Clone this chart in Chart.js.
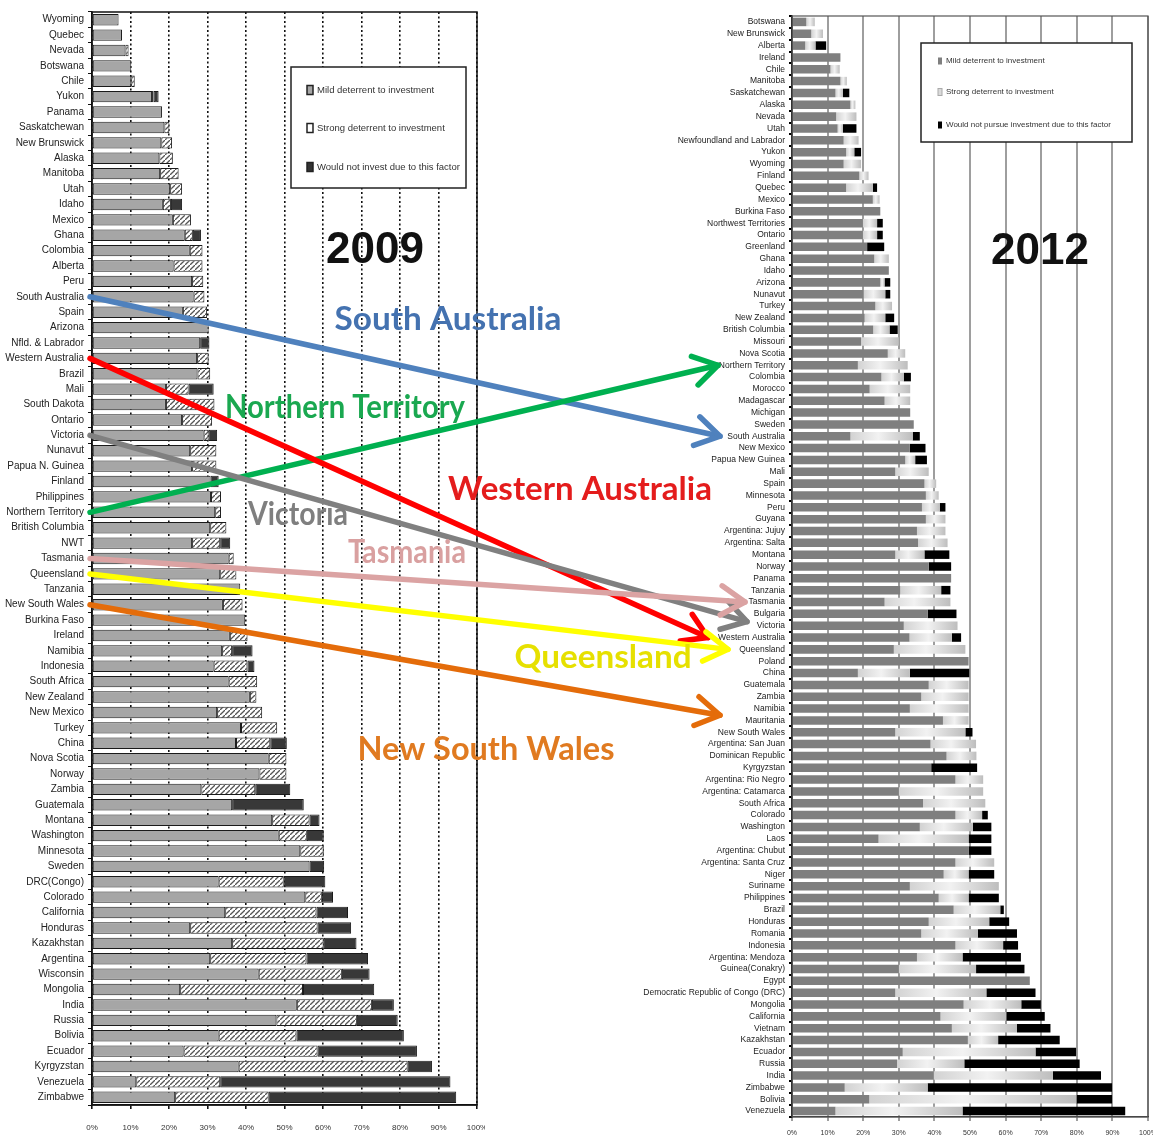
<!DOCTYPE html>
<html><head><meta charset="utf-8">
<script src="https://cdn.jsdelivr.net/npm/chart.js@4.4.1/dist/chart.umd.min.js"></script>
<style>
html,body{margin:0;padding:0;background:#fff;width:1153px;height:1137px;overflow:hidden;}
#wrap{position:relative;width:1153px;height:1137px;}
.abs{position:absolute;}
</style></head><body>
<div id="wrap">
<canvas id="c2009" class="abs" width="485" height="1137" style="left:0;top:0;width:485px;height:1137px"></canvas>
<canvas id="c2012" class="abs" width="523" height="1137" style="left:630px;top:0;width:523px;height:1137px"></canvas>
<canvas id="overlay" class="abs" width="1153" height="1137" style="left:0;top:0;width:1153px;height:1137px;pointer-events:none"></canvas>
</div>
<script>
// ---------- 2009 data ----------
const cats2009 = ["Wyoming","Quebec","Nevada","Botswana","Chile","Yukon","Panama","Saskatchewan","New Brunswick","Alaska",
"Manitoba","Utah","Idaho","Mexico","Ghana","Colombia","Alberta","Peru","South Australia","Spain",
"Arizona","Nfld. & Labrador","Western Australia","Brazil","Mali","South Dakota","Ontario","Victoria","Nunavut","Papua N. Guinea",
"Finland","Philippines","Northern Territory","British Columbia","NWT","Tasmania","Queensland","Tanzania","New South Wales","Burkina Faso",
"Ireland","Namibia","Indonesia","South Africa","New Zealand","New Mexico","Turkey","China","Nova Scotia","Norway",
"Zambia","Guatemala","Montana","Washington","Minnesota","Sweden","DRC(Congo)","Colorado","California","Honduras",
"Kazakhstan","Argentina","Wisconsin","Mongolia","India","Russia","Bolivia","Ecuador","Kyrgyzstan","Venezuela","Zimbabwe"];
const mild2009 = [6.9,7.8,8.7,10.2,10.2,15.6,18.2,18.8,18.0,17.5,
17.7,20.3,18.4,21.0,24.1,25.4,21.2,26.0,26.4,23.6,
30.3,28.1,27.3,27.4,19.2,19.2,23.4,29.0,25.5,26.0,
30.8,30.9,32.0,30.7,26.0,35.5,33.3,38.5,34.0,39.8,
35.8,33.8,31.6,35.5,41.0,32.5,38.7,37.4,45.9,43.5,
28.4,36.4,46.8,48.5,54.1,56.5,32.9,55.4,34.6,25.5,
36.4,30.7,43.3,22.9,53.2,47.9,32.9,23.8,38.1,11.5,21.6];
const strong2009 = [0,0,0.8,0,0.9,0.4,0,1.3,2.8,3.5,
4.8,3.1,2.1,4.7,2.1,3.3,7.5,2.9,2.8,6.3,
0,0,3.0,3.3,5.9,12.6,7.8,1.3,6.8,6.3,
0,2.6,1.5,4.2,7.3,1.3,4.2,0,5.1,0,
4.6,2.6,8.8,7.4,1.7,11.7,9.4,8.9,4.6,7.0,
14.0,0,9.7,7.3,6.1,0,16.9,4.3,23.7,33.1,
23.8,25.0,21.6,31.9,19.5,20.9,20.2,34.8,43.9,21.8,24.3];
const notInvest2009 = [0,0,0,0,0,1.3,0,0,0,0,
0,0,2.9,0,2.1,0,0,0,0,0,
0,2.4,0,0,6.5,0,0,2.2,0,0,
2.1,0,0,0,2.6,0,0,0,0,0,
0,5.3,1.8,0,0,0,0,4.3,0,0,
9.1,18.6,2.6,4.4,0,3.8,10.8,2.9,8.2,8.7,
8.5,16.0,7.2,18.5,5.7,10.6,27.9,25.8,6.3,59.8,48.7];

// ---------- 2012 data ----------
const cats2012 = ["Botswana","New Brunswick","Alberta","Ireland","Chile","Manitoba","Saskatchewan","Alaska","Nevada","Utah",
"Newfoundland and Labrador","Yukon","Wyoming","Finland","Quebec","Mexico","Burkina Faso","Northwest Territories","Ontario","Greenland",
"Ghana","Idaho","Arizona","Nunavut","Turkey","New Zealand","British Columbia","Missouri","Nova Scotia","Northern Territory",
"Colombia","Morocco","Madagascar","Michigan","Sweden","South Australia","New Mexico","Papua New Guinea","Mali","Spain",
"Minnesota","Peru","Guyana","Argentina: Jujuy","Argentina: Salta","Montana","Norway","Panama","Tanzania","Tasmania",
"Bulgaria","Victoria","Western Australia","Queensland","Poland","China","Guatemala","Zambia","Namibia","Mauritania",
"New South Wales","Argentina: San Juan","Dominican Republic","Kyrgyzstan","Argentina: Rio Negro","Argentina: Catamarca","South Africa","Colorado","Washington","Laos",
"Argentina: Chubut","Argentina: Santa Cruz","Niger","Suriname","Philippines","Brazil","Honduras","Romania","Indonesia","Argentina: Mendoza",
"Guinea(Conakry)","Egypt","Democratic Republic of Congo (DRC)","Mongolia","California","Vietnam","Kazakhstan","Ecuador","Russia","India",
"Zimbabwe","Bolivia","Venezuela"];
const mild2012 = [4.0,5.4,3.7,13.6,10.8,13.6,12.2,16.4,12.4,12.8,
14.5,15.2,14.5,18.9,15.2,22.7,24.8,19.9,19.9,21.1,
23.1,27.2,24.8,20.1,23.4,20.4,22.8,19.4,26.9,18.5,
25.1,21.8,26.0,33.2,34.2,16.4,33.1,31.8,29.0,37.2,
37.6,36.5,37.6,35.1,35.4,29.0,38.4,44.7,30.4,26.0,
38.1,31.4,33.0,28.6,49.6,18.5,38.4,36.3,33.1,42.4,
29.0,38.9,43.4,39.1,45.9,30.0,36.8,45.9,35.9,24.3,
49.6,45.9,42.6,33.1,41.2,45.4,38.4,36.3,45.9,35.1,
30.0,66.8,29.0,48.2,41.7,44.9,49.4,31.1,29.5,39.8,
14.8,21.7,12.2];
const strong2012 = [2.4,3.3,2.9,0,2.6,1.8,2.1,1.4,5.7,1.5,
4.2,2.3,4.9,2.6,7.5,1.9,0,4.0,4.0,0,
4.1,0,1.2,6.1,4.7,5.8,4.6,10.6,4.9,14.0,
6.3,11.4,7.2,0,0,17.5,0,2.8,9.4,3.3,
3.6,5.0,5.5,8.0,8.3,8.2,0,0,11.5,18.5,
0,15.1,11.9,20.1,0,14.6,11.2,13.3,16.5,7.2,
19.7,12.8,8.4,0,7.8,23.7,17.5,7.5,14.9,25.3,
0,10.9,7.0,25.0,8.4,13.1,17.0,15.9,13.4,12.8,
21.7,0,25.6,16.2,18.5,18.3,8.5,37.3,18.9,33.5,
23.3,58.2,35.7];
const notPursue2012 = [0,0,3.0,0,0,0,1.8,0,0,3.8,
0,1.9,0,0,1.2,0,0,1.6,1.6,4.8,
0,0,1.6,1.4,0,2.5,2.3,0,0,0,
2.0,0,0,0,0,2.0,4.4,3.3,0,0,
0,1.6,0,0,0,7.0,6.3,0,2.6,0,
8.1,0,2.6,0,0,16.7,0,0,0,0,
2.0,0,0,12.9,0,0,0,1.6,5.2,6.4,
6.4,0,7.2,0,8.5,1.0,5.6,11.0,4.2,16.4,
13.6,0,13.8,5.5,10.8,9.4,17.3,11.4,32.4,13.5,
51.8,10.0,45.7];

const xTicks = [0,10,20,30,40,50,60,70,80,90,100];
const legend2009 = ["Mild deterrent to investment","Strong deterrent to investment","Would not invest due to this factor"];
const legend2012 = ["Mild deterrent to investment","Strong deterrent to investment","Would not pursue investment due to this factor"];
const yearLabels = ["2009","2012"];

// annotations linking the two charts
const links = [
  {name:"South Australia",    color:"#4f81bd", text:"#4472b0", tipX:720, dy:0,   tx:448, ty:320, w:227},
  {name:"Northern Territory", color:"#00b050", text:"#1aa850", tipX:718, dy:0,   tx:345, ty:408, w:240},
  {name:"Western Australia",  color:"#ff0000", text:"#e41c1c", tipX:708, dy:0,   tx:580, ty:490, w:264},
  {name:"Victoria",           color:"#808080", text:"#7f7f7f", tipX:747, dy:-4,  tx:298, ty:515, w:100},
  {name:"Tasmania",           color:"#dba3a3", text:"#d9a0a0", tipX:745, dy:0,   tx:407, ty:553, w:118},
  {name:"Queensland",         color:"#ffff00", text:"#e6e000", tipX:728, dy:0,   tx:603, ty:658, w:177},
  {name:"New South Wales",    color:"#e46c0a", text:"#e07a20", tipX:720, dy:-17, tx:486, ty:750, w:257}
];

const NARROW = "'Liberation Sans Narrow','Arial Narrow','Liberation Sans',sans-serif";
const nz = a => a.map(v => v === 0 ? null : v);

const framePlugin = {
  id:'frame',
  beforeDatasetsDraw(chart, args, opts){
    const {ctx, chartArea:a} = chart;
    ctx.save(); ctx.strokeStyle = opts.color; ctx.lineWidth = opts.width;
    ctx.strokeRect(a.left, a.top, a.right - a.left, a.bottom - a.top);
    ctx.restore();
  }
};

// ---------- 2009 chart ----------
const c1 = document.getElementById('c2009');
const ctx1 = c1.getContext('2d');
const hc = document.createElement('canvas'); hc.width = 5; hc.height = 5;
const hg = hc.getContext('2d');
hg.fillStyle = '#fff'; hg.fillRect(0,0,5,5);
hg.strokeStyle = '#555'; hg.lineWidth = 1.3;
hg.beginPath(); hg.moveTo(-1,6); hg.lineTo(6,-1); hg.stroke();
const hatch = ctx1.createPattern(hc, 'repeat');

const common1 = {borderColor:'#1a1a1a', borderWidth:1, borderSkipped:false, barPercentage:0.74, categoryPercentage:1};
const chart1 = new Chart(ctx1, {
  type:'bar',
  data:{labels:cats2009, datasets:[
    Object.assign({label:legend2009[0], data:nz(mild2009), backgroundColor:'#a6a6a6'}, common1),
    Object.assign({label:legend2009[1], data:nz(strong2009), backgroundColor:hatch}, common1),
    Object.assign({label:legend2009[2], data:nz(notInvest2009), backgroundColor:'#383838'}, common1)
  ]},
  options:{
    indexAxis:'y', responsive:false, animation:false,
    layout:{padding:{top:12, right:8, left:0, bottom:0}},
    plugins:{legend:{display:false}, tooltip:{enabled:false}, frame:{color:'#111', width:1.5}},
    scales:{
      x:{stacked:true, min:0, max:100,
         afterBuildTicks: s => { s.ticks = xTicks.map(v => ({value:v})); },
         ticks:{callback:v => v + '%', font:{size:8, family:NARROW}, color:'#333', padding:14, maxRotation:0},
         grid:{color:'#111', lineWidth:1.6, tickLength:4},
         border:{color:'#111', width:1.5, dash:[2,2.5]},
         afterFit: s => { s.height = 32; s.paddingLeft = 0; s.paddingRight = 0; }},
      y:{stacked:true,
         ticks:{autoSkip:false, font:{size:10, family:NARROW}, color:'#222', padding:4},
         grid:{drawOnChartArea:false, offset:true, tickLength:4, color:'#111', lineWidth:1},
         border:{color:'#111', width:1.5},
         afterFit: s => { s.width = 92; s.paddingTop = 0; s.paddingBottom = 0; }}
    }
  },
  plugins:[framePlugin]
});

// ---------- 2012 chart ----------
const OFF2 = 630;
const c2 = document.getElementById('c2012');
const ctx2 = c2.getContext('2d');
function strongFill(context){
  const ch = context.chart;
  if (!ch.chartArea || !ch.scales.x) return '#d4d4d4';
  const i = context.dataIndex;
  const xs = ch.scales.x;
  const x0 = xs.getPixelForValue(mild2012[i]);
  const x1 = xs.getPixelForValue(mild2012[i] + strong2012[i]);
  if (!(x1 > x0)) return '#d4d4d4';
  const g = ch.ctx.createLinearGradient(x0, 0, x1, 0);
  g.addColorStop(0, '#d2d2d2');
  g.addColorStop(0.45, '#f2f2f2');
  g.addColorStop(1, '#bdbdbd');
  return g;
}
const common2 = {borderWidth:0, barPercentage:0.72, categoryPercentage:1};
const chart2 = new Chart(ctx2, {
  type:'bar',
  data:{labels:cats2012, datasets:[
    Object.assign({label:legend2012[0], data:nz(mild2012), backgroundColor:'#7f7f7f'}, common2),
    Object.assign({label:legend2012[1], data:nz(strong2012), backgroundColor:strongFill}, common2),
    Object.assign({label:legend2012[2], data:nz(notPursue2012), backgroundColor:'#000'}, common2)
  ]},
  options:{
    indexAxis:'y', responsive:false, animation:false,
    layout:{padding:{top:16, right:5, left:0, bottom:0}},
    plugins:{legend:{display:false}, tooltip:{enabled:false}, frame:{color:'#555', width:1.2}},
    scales:{
      x:{stacked:true, min:0, max:100,
         afterBuildTicks: s => { s.ticks = xTicks.map(v => ({value:v})); },
         ticks:{callback:v => v + '%', font:{size:7, family:NARROW}, color:'#333', padding:8, maxRotation:0},
         grid:{color:'#9e9e9e', lineWidth:2, tickLength:4},
         border:{color:'#333', width:1.2},
         afterFit: s => { s.height = 20; s.paddingLeft = 0; s.paddingRight = 0; }},
      y:{stacked:true,
         ticks:{autoSkip:false, font:{size:8.5, family:NARROW}, color:'#222', padding:4},
         grid:{drawOnChartArea:false, offset:true, tickLength:3, color:'#000', lineWidth:2},
         border:{color:'#000', width:1.5},
         afterFit: s => { s.width = 162; s.paddingTop = 0; s.paddingBottom = 0; }}
    }
  },
  plugins:[framePlugin]
});

// ---------- overlay: legends, year captions, arrows and captions ----------
function drawOverlay(){
  const ov = document.getElementById('overlay');
  const g = ov.getContext('2d');
  g.clearRect(0,0,ov.width,ov.height);

  function legendBox(x, y, w, h, items, ys, sw, font, swatches){
    g.save();
    g.fillStyle = '#fff'; g.fillRect(x, y, w, h);
    g.strokeStyle = '#222'; g.lineWidth = 1.5; g.strokeRect(x, y, w, h);
    g.font = font; g.textBaseline = 'middle'; g.textAlign = 'left';
    items.forEach((t, k) => {
      const s = swatches[k];
      g.fillStyle = s.fill; g.fillRect(x + sw.dx, ys[k] - sw.h/2, sw.w, sw.h);
      if (s.stroke){ g.strokeStyle = s.stroke; g.lineWidth = s.lw; g.strokeRect(x + sw.dx, ys[k] - sw.h/2, sw.w, sw.h); }
      g.fillStyle = '#333';
      g.fillText(t, x + sw.dx + sw.w + 4, ys[k]);
    });
    g.restore();
  }
  legendBox(291, 67, 175, 121, legend2009, [90,128,167], {dx:16, w:6, h:9}, "9.5px " + NARROW,
    [{fill:'#a6a6a6', stroke:'#222', lw:1.5},{fill:'#fff', stroke:'#222', lw:1.5},{fill:'#333', stroke:'#222', lw:1.5}]);
  legendBox(921, 43, 211, 99, legend2012, [61,92,125], {dx:17, w:4, h:7}, "8px " + NARROW,
    [{fill:'#7f7f7f'},{fill:'#dadada', stroke:'#aaa', lw:1},{fill:'#000'}]);

  g.save();
  g.font = "bold 44px 'Liberation Sans', Arial, sans-serif";
  g.fillStyle = '#111'; g.textAlign = 'center'; g.textBaseline = 'middle';
  g.fillText(yearLabels[0], 375, 251);
  g.fillText(yearLabels[1], 1040, 252);
  g.restore();

  function arrow(x1,y1,x2,y2,color){
    g.save();
    g.strokeStyle = color; g.lineWidth = 5.5; g.lineCap = 'round'; g.lineJoin = 'round';
    g.beginPath(); g.moveTo(x1,y1); g.lineTo(x2,y2); g.stroke();
    const a = Math.atan2(y2-y1, x2-x1), L = 28, s = 0.55;
    g.beginPath();
    g.moveTo(x2 - L*Math.cos(a-s), y2 - L*Math.sin(a-s));
    g.lineTo(x2, y2);
    g.lineTo(x2 - L*Math.cos(a+s), y2 - L*Math.sin(a+s));
    g.stroke();
    g.restore();
  }
  links.forEach(l => {
    const i1 = cats2009.indexOf(l.name), i2 = cats2012.indexOf(l.name);
    const x1 = chart1.chartArea.left - 2;
    const y1 = chart1.scales.y.getPixelForValue(i1);
    const y2 = chart2.scales.y.getPixelForValue(i2) + l.dy;
    arrow(x1, y1, l.tipX, y2, l.color);
  });
  g.textAlign = 'center'; g.textBaseline = 'middle';
  g.font = "bold 32px Lato, 'Open Sans', sans-serif";
  links.forEach(l => {
    const m = g.measureText(l.name).width;
    g.save();
    g.translate(l.tx, l.ty);
    g.scale(l.w / m, 1);
    g.fillStyle = l.text;
    g.fillText(l.name, 0, 0);
    g.restore();
  });
}
drawOverlay();
</script>
</body></html>
